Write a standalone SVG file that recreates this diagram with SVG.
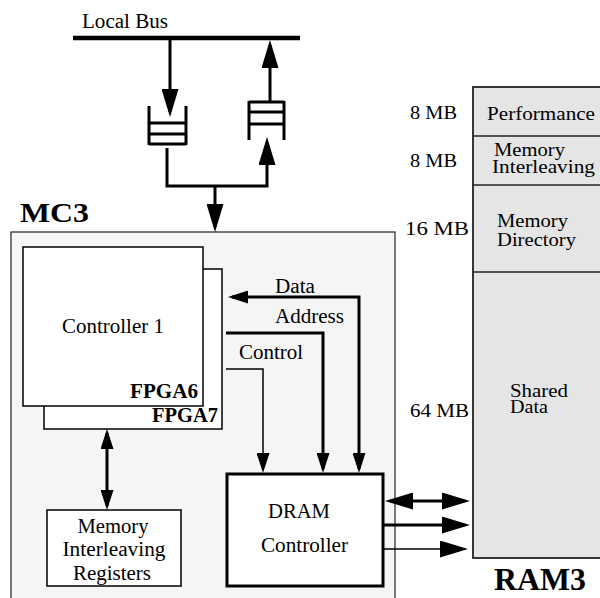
<svg xmlns="http://www.w3.org/2000/svg" width="600" height="598" viewBox="0 0 600 598">
<style>
text{font-family:"Liberation Serif","Times New Roman",serif;font-size:20.5px;fill:#000}
.b{font-weight:bold}
.s{font-size:19.5px}
.box{fill:#fff;stroke:#000;stroke-width:1.5}
.fifo{fill:none;stroke:#000;stroke-width:3}
.thick{fill:none;stroke:#000;stroke-width:3}
.thin{fill:none;stroke:#000;stroke-width:1.5}
</style>
<defs>
<marker id="ah" viewBox="0 0 28 17" refX="23" refY="8.5" markerWidth="28" markerHeight="17" markerUnits="userSpaceOnUse" orient="auto-start-reverse"><path d="M0,0 L28,8.5 L0,17 z" fill="#000"/></marker>
<marker id="as" viewBox="0 0 20 13" refX="16" refY="6.5" markerWidth="20" markerHeight="13" markerUnits="userSpaceOnUse" orient="auto-start-reverse"><path d="M0,0 L20,6.5 L0,13 z" fill="#000"/></marker>
</defs>

<g id="mc3">
<rect x="11" y="232" width="384" height="380" fill="#f5f5f5" stroke="#222" stroke-width="1.2"/>
<text class="b" x="20" y="222" textLength="69" lengthAdjust="spacingAndGlyphs" style="font-size:28px">MC3</text>
</g>

<g id="ram3">
<rect x="473" y="87" width="140" height="471" fill="#e5e5e5" stroke="#222" stroke-width="1.8"/>
<path d="M473,136 H600 M473,185 H600 M473,272 H600" stroke="#222" stroke-width="1.5"/>
<text class="s" x="410" y="119" textLength="47" lengthAdjust="spacingAndGlyphs">8 MB</text>
<text class="s" x="487" y="120" textLength="108" lengthAdjust="spacingAndGlyphs">Performance</text>
<text class="s" x="410" y="167" textLength="47" lengthAdjust="spacingAndGlyphs">8 MB</text>
<text class="s" x="494" y="156" textLength="71" lengthAdjust="spacingAndGlyphs">Memory</text>
<text class="s" x="492" y="173" textLength="103" lengthAdjust="spacingAndGlyphs">Interleaving</text>
<text class="s" x="405" y="235" textLength="64" lengthAdjust="spacingAndGlyphs">16 MB</text>
<text class="s" x="497" y="227" textLength="71" lengthAdjust="spacingAndGlyphs">Memory</text>
<text class="s" x="497" y="246" textLength="79" lengthAdjust="spacingAndGlyphs">Directory</text>
<text class="s" x="410" y="417" textLength="59" lengthAdjust="spacingAndGlyphs">64 MB</text>
<text class="s" x="510" y="397" textLength="58" lengthAdjust="spacingAndGlyphs">Shared</text>
<text class="s" x="510" y="413" textLength="38" lengthAdjust="spacingAndGlyphs">Data</text>
<text class="b" x="494" y="590" textLength="92" lengthAdjust="spacingAndGlyphs" style="font-size:31px">RAM3</text>
</g>

<g id="local-bus">
<line x1="73" y1="38" x2="300" y2="38" stroke="#000" stroke-width="4.5"/>
<text x="82" y="28" textLength="86" lengthAdjust="spacingAndGlyphs">Local Bus</text>
</g>

<g id="fifo-in">
<path class="fifo" d="M149,106 V145 M186,106 V145 M149,123 H186 M149,134 H186 M149,144 H186"/>
</g>

<g id="fifo-out">
<path class="fifo" d="M249,140 V101 M284,140 V101 M249,102 H284 M249,112 H284 M249,124 H284"/>
</g>

<g id="fpga7">
<rect class="box" x="44" y="269" width="178" height="160"/>
<text class="b" x="152" y="422" textLength="66" lengthAdjust="spacingAndGlyphs">FPGA7</text>
</g>

<g id="fpga6">
<rect class="box" x="23" y="247" width="180" height="159"/>
<text x="62" y="333" textLength="102" lengthAdjust="spacingAndGlyphs">Controller 1</text>
<text class="b" x="130" y="398" textLength="68" lengthAdjust="spacingAndGlyphs">FPGA6</text>
</g>

<g id="dram">
<rect x="227" y="474" width="156" height="112" fill="#fff" stroke="#000" stroke-width="3"/>
<text x="268" y="518" textLength="62" lengthAdjust="spacingAndGlyphs">DRAM</text>
<text x="261" y="552" textLength="87" lengthAdjust="spacingAndGlyphs">Controller</text>
</g>

<g id="mir">
<rect class="box" x="47" y="510" width="134" height="76"/>
<text x="113" y="533" text-anchor="middle" textLength="71" lengthAdjust="spacingAndGlyphs">Memory</text>
<text x="114" y="556" text-anchor="middle" textLength="103" lengthAdjust="spacingAndGlyphs">Interleaving</text>
<text x="112" y="580" text-anchor="middle" textLength="78" lengthAdjust="spacingAndGlyphs">Registers</text>
</g>

<g id="connectors">
<path class="thick" d="M170,40 V112" marker-end="url(#ah)"/>
<path class="thick" d="M270,101 V45" marker-end="url(#ah)"/>
<path class="thick" d="M167,148 V186 H267 V142" marker-end="url(#ah)"/>
<path class="thick" d="M215,186 V227" marker-end="url(#ah)"/>
<path class="thick" d="M232,297 H359 V469" marker-start="url(#as)" marker-end="url(#as)"/>
<text x="275" y="293" textLength="40" lengthAdjust="spacingAndGlyphs">Data</text>
<path class="thick" d="M226,333 H323 V469" marker-end="url(#as)"/>
<text x="275" y="323" textLength="69" lengthAdjust="spacingAndGlyphs">Address</text>
<path class="thin" d="M226,369 H263 V469" marker-end="url(#as)"/>
<text x="239" y="359" textLength="64" lengthAdjust="spacingAndGlyphs">Control</text>
<path class="thick" d="M107,433 V506" marker-start="url(#as)" marker-end="url(#as)"/>
<path class="thick" d="M390,501 H465" marker-start="url(#ah)" marker-end="url(#ah)"/>
<path class="thick" d="M383,525 H465" marker-end="url(#ah)"/>
<path class="thin" d="M383,549 H463" marker-end="url(#ah)"/>
</g>
</svg>
